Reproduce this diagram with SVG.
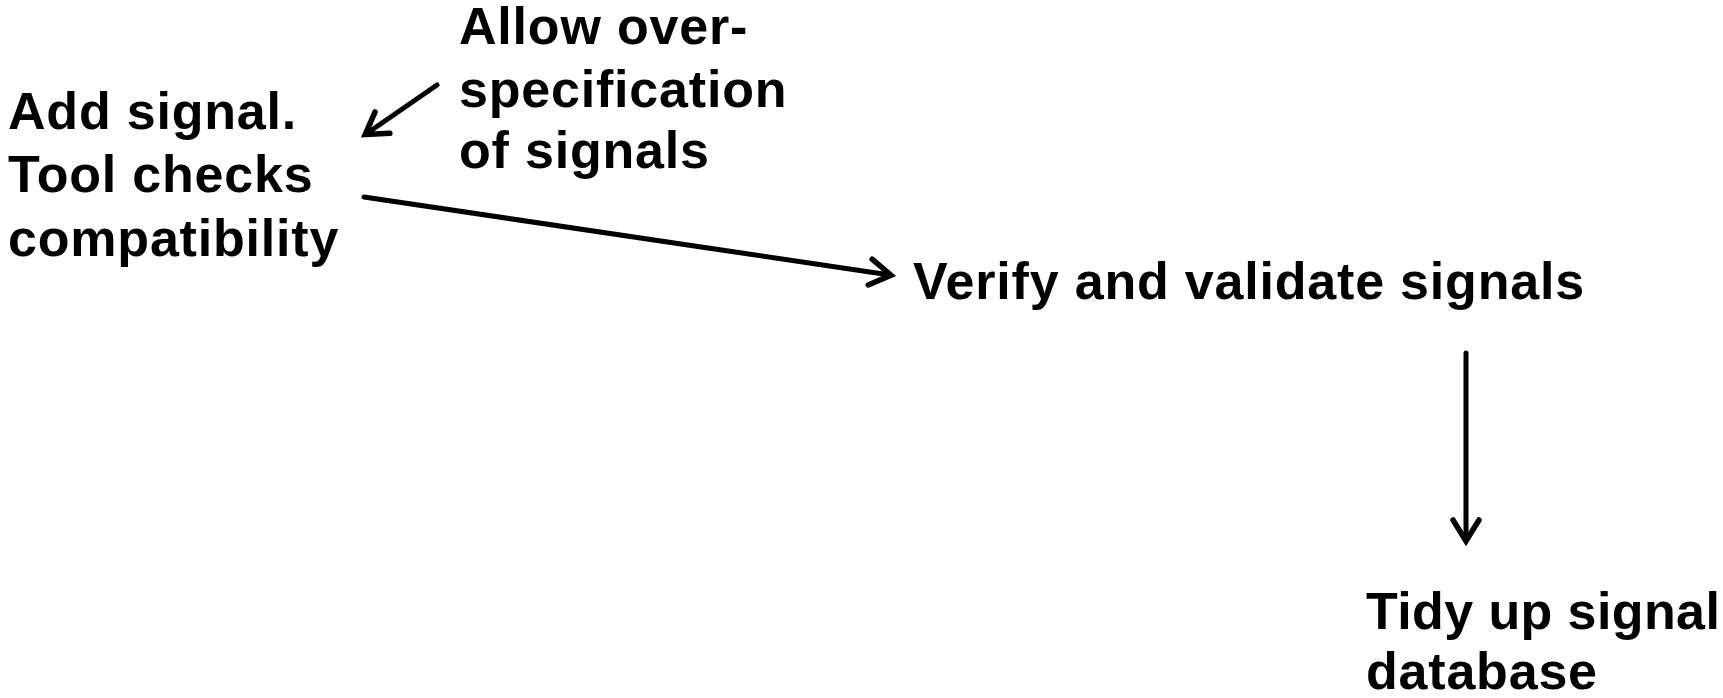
<svg xmlns="http://www.w3.org/2000/svg" width="1723" height="698" viewBox="0 0 1723 698">
<style>
text{font-family:"Liberation Sans",Arial,sans-serif;font-weight:bold;font-size:52px;letter-spacing:0.8px;fill:#000}
.c{stroke:#000;stroke-width:5;fill:none;stroke-linecap:round}
</style>
<defs>
<marker id="ah" viewBox="0 0 32 32" refX="24" refY="16" markerWidth="32" markerHeight="32" markerUnits="userSpaceOnUse" orient="auto">
<path d="M4,3 L25,16 L4,29" fill="none" stroke="#000" stroke-width="5.5" stroke-linecap="round" stroke-linejoin="miter"/>
</marker>
</defs>
<rect width="1723" height="698" fill="#fff"/>
<g id="connectors">
<line class="c" x1="437" y1="85" x2="366" y2="134" marker-end="url(#ah)"/>
<line class="c" x1="364" y1="197" x2="890" y2="275" marker-end="url(#ah)"/>
<line class="c" x1="1466" y1="353" x2="1466" y2="540" marker-end="url(#ah)"/>
</g>
<g id="n-allow">
<text x="459" y="44">Allow over-</text>
<text x="459" y="107">specification</text>
<text x="459" y="168">of signals</text>
</g>
<g id="n-add">
<text x="8" y="129">Add signal.</text>
<text x="8" y="192">Tool checks</text>
<text x="8" y="256">compatibility</text>
</g>
<g id="n-verify">
<text x="913" y="299">Verify and validate signals</text>
</g>
<g id="n-tidy">
<text x="1366" y="629" style="letter-spacing:0.4px">Tidy up signal</text>
<text x="1366" y="689">database</text>
</g>
</svg>
